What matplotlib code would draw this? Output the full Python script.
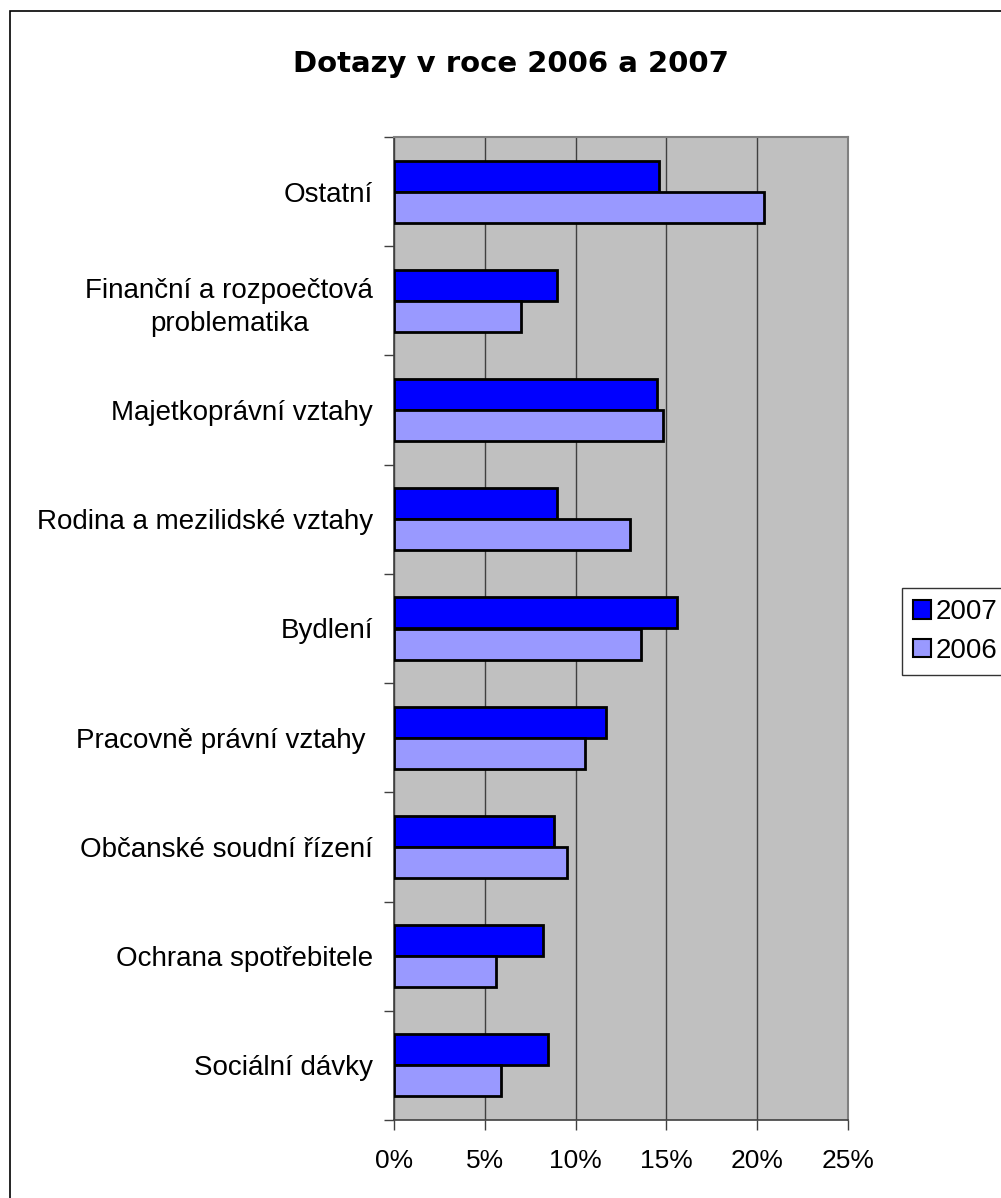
import matplotlib.pyplot as plt
from matplotlib.patches import Patch, Rectangle
from matplotlib.ticker import FuncFormatter, FixedLocator
import numpy as np

# data, top to bottom as shown
categories = [
    "Ostatní",
    "Finanční a rozpoečtová\nproblematika",
    "Majetkoprávní vztahy",
    "Rodina a mezilidské vztahy",
    "Bydlení",
    "Pracovně právní vztahy ",
    "Občanské soudní řízení",
    "Ochrana spotřebitele",
    "Sociální dávky",
]
values_2007 = [14.6, 9.0, 14.5, 9.0, 15.6, 11.7, 8.8, 8.2, 8.5]
values_2006 = [20.4, 7.0, 14.8, 13.0, 13.6, 10.5, 9.5, 5.6, 5.9]
x_ticks = [0, 5, 10, 15, 20, 25]

plt.rcParams['font.family'] = ['Liberation Sans', 'DejaVu Sans']

fig = plt.figure(figsize=(10.01, 11.98), dpi=100)
ax = fig.add_axes([394/1001, 1-1120/1198, 454/1001, 983/1198])
ax.set_facecolor('#C0C0C0')

n = len(categories)
pos = np.arange(n)
h = 0.284
ax.barh(pos - h/2, values_2007, height=h, color='#0000FF', edgecolor='black', linewidth=2, label='2007', zorder=3)
ax.barh(pos + h/2, values_2006, height=h, color='#9999FF', edgecolor='black', linewidth=2, label='2006', zorder=3)

ax.set_xlim(0, 25)
ax.set_ylim(n - 0.5, -0.5)
ax.set_xticks(x_ticks)
ax.xaxis.set_major_formatter(FuncFormatter(lambda v, p: f"{v:.0f}%"))
ax.set_yticks(pos)
ax.set_yticklabels(categories, multialignment='center', linespacing=1.35)
ax.yaxis.set_minor_locator(FixedLocator(np.arange(-0.5, n, 1)))
ax.tick_params(axis='y', which='major', length=0, pad=15, labelsize=20)
ax.tick_params(axis='y', which='minor', length=7, width=1, color='#404040')
ax.tick_params(axis='x', length=7, width=1, color='#404040', pad=14, labelsize=19)
ax.grid(axis='x', color='#404040', linewidth=1, zorder=1)
ax.set_axisbelow(True)

for s in ['left', 'bottom']:
    ax.spines[s].set_color('#404040')
    ax.spines[s].set_linewidth(1.2)
for s in ['top', 'right']:
    ax.spines[s].set_color('#808080')
    ax.spines[s].set_linewidth(1.5)

fig.text(511/1001, 1-64/1198, "Dotazy v roce 2006 a 2007", ha='center', va='center',
         fontsize=21, fontweight='bold', family='DejaVu Sans')

handles = [Patch(facecolor='#0000FF', edgecolor='black', linewidth=1.5, label='2007'),
           Patch(facecolor='#9999FF', edgecolor='black', linewidth=1.5, label='2006')]
leg = fig.legend(handles=handles, loc='upper left', bbox_to_anchor=(902/1001, 1-588/1198),
                 fontsize=20, frameon=True, fancybox=False, edgecolor='black',
                 handlelength=0.65, handleheight=0.65, handletextpad=0.15,
                 labelspacing=0.45, borderpad=0.4, borderaxespad=0)
leg.get_frame().set_linewidth(1)

# outer chart border
fig.patches.append(Rectangle((10/1001, -0.1), 1.2, 1.1 - 11/1198, transform=fig.transFigure,
                             fill=False, edgecolor='black', linewidth=1.2))

fig.savefig('out.png', dpi=100)
